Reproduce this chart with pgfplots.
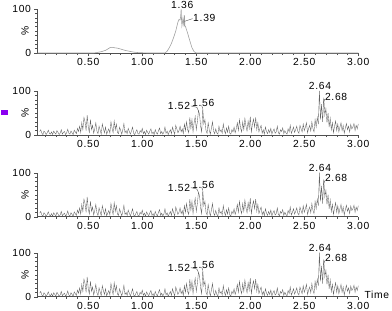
\documentclass[border=0pt]{standalone}
\usepackage{fontspec}
\setmainfont{Liberation Sans}
\newfontfamily\lab[LetterSpace=7]{Liberation Sans}
\usepackage{pgfplots}
\usepackage{pgfplotstable}
\pgfplotsset{compat=1.18}
\definecolor{axc}{HTML}{505050}
\definecolor{trc}{HTML}{626262}
\definecolor{pk}{HTML}{A0A0A0}
\definecolor{mk}{HTML}{8A00F0}

\pgfplotstableread[row sep=\\]{
x y\\
0.05 8\\ 0.06 12\\ 0.07 4\\ 0.08 1\\ 0.09 9\\ 0.10 6\\ 0.11 1\\ 0.12 5\\ 0.13 11\\ 0.14 4\\
0.15 2\\ 0.16 7\\ 0.17 1\\ 0.18 9\\ 0.19 5\\ 0.20 2\\ 0.21 10\\ 0.22 6\\ 0.23 1\\ 0.24 4\\
0.25 12\\ 0.26 2\\ 0.27 6\\ 0.28 8\\ 0.29 1\\ 0.30 5\\ 0.31 13\\ 0.32 4\\ 0.33 2\\ 0.34 9\\
0.35 5\\ 0.36 1\\ 0.37 11\\ 0.38 7\\ 0.39 3\\ 0.40 15\\ 0.41 8\\ 0.42 20\\ 0.43 6\\ 0.44 28\\
0.45 12\\ 0.46 40\\ 0.47 30\\ 0.48 10\\ 0.49 45\\ 0.50 18\\ 0.51 6\\ 0.52 35\\ 0.53 12\\ 0.54 22\\
0.55 4\\ 0.56 14\\ 0.57 28\\ 0.58 9\\ 0.59 3\\ 0.60 20\\ 0.61 11\\ 0.62 2\\ 0.63 25\\ 0.64 14\\
0.65 5\\ 0.66 18\\ 0.67 2\\ 0.68 8\\ 0.69 14\\ 0.70 4\\ 0.71 30\\ 0.72 16\\ 0.73 5\\ 0.74 32\\
0.75 12\\ 0.76 25\\ 0.77 6\\ 0.78 3\\ 0.79 18\\ 0.80 10\\ 0.81 2\\ 0.82 12\\ 0.83 26\\ 0.84 5\\
0.85 10\\ 0.86 3\\ 0.87 15\\ 0.88 8\\ 0.89 2\\ 0.90 9\\ 0.91 18\\ 0.92 4\\ 0.93 1\\ 0.94 7\\
0.95 12\\ 0.96 3\\ 0.97 2\\ 0.98 10\\ 0.99 6\\ 1.00 15\\ 1.01 3\\ 1.02 8\\ 1.03 1\\ 1.04 11\\
1.05 6\\ 1.06 2\\ 1.07 9\\ 1.08 14\\ 1.09 3\\ 1.10 7\\ 1.11 1\\ 1.12 12\\ 1.13 5\\ 1.14 2\\
1.15 10\\ 1.16 16\\ 1.17 3\\ 1.18 8\\ 1.19 2\\ 1.20 6\\ 1.21 18\\ 1.22 4\\ 1.23 9\\ 1.24 1\\
1.25 7\\ 1.26 12\\ 1.27 3\\ 1.28 18\\ 1.29 9\\ 1.30 2\\ 1.31 22\\ 1.32 14\\ 1.33 5\\ 1.34 10\\
1.35 20\\ 1.36 7\\ 1.37 14\\ 1.38 3\\ 1.39 25\\ 1.40 10\\ 1.41 30\\ 1.42 12\\ 1.43 5\\ 1.44 40\\
1.45 15\\ 1.46 35\\ 1.47 7\\ 1.48 28\\ 1.49 42\\ 1.50 12\\ 1.51 30\\ 1.52 55\\ 1.53 48\\ 1.54 20\\
1.55 7\\ 1.56 60\\ 1.57 25\\ 1.58 35\\ 1.59 10\\ 1.60 4\\ 1.61 28\\ 1.62 12\\ 1.63 2\\ 1.64 15\\
1.65 30\\ 1.66 9\\ 1.67 3\\ 1.68 14\\ 1.69 5\\ 1.70 2\\ 1.71 20\\ 1.72 8\\ 1.73 12\\ 1.74 4\\
1.75 25\\ 1.76 10\\ 1.77 3\\ 1.78 16\\ 1.79 6\\ 1.80 20\\ 1.81 4\\ 1.82 2\\ 1.83 12\\ 1.84 7\\
1.85 18\\ 1.86 5\\ 1.87 14\\ 1.88 28\\ 1.89 10\\ 1.90 35\\ 1.91 16\\ 1.92 7\\ 1.93 30\\ 1.94 12\\
1.95 38\\ 1.96 20\\ 1.97 9\\ 1.98 32\\ 1.99 15\\ 2.00 42\\ 2.01 7\\ 2.02 25\\ 2.03 36\\ 2.04 18\\
2.05 40\\ 2.06 12\\ 2.07 28\\ 2.08 7\\ 2.09 15\\ 2.10 22\\ 2.11 4\\ 2.12 12\\ 2.13 2\\ 2.14 18\\
2.15 8\\ 2.16 3\\ 2.17 12\\ 2.18 5\\ 2.19 15\\ 2.20 2\\ 2.21 9\\ 2.22 14\\ 2.23 4\\ 2.24 7\\
2.25 20\\ 2.26 5\\ 2.27 2\\ 2.28 12\\ 2.29 8\\ 2.30 16\\ 2.31 3\\ 2.32 10\\ 2.33 5\\ 2.34 2\\
2.35 14\\ 2.36 7\\ 2.37 22\\ 2.38 4\\ 2.39 10\\ 2.40 18\\ 2.41 6\\ 2.42 12\\ 2.43 20\\ 2.44 8\\
2.45 4\\ 2.46 22\\ 2.47 14\\ 2.48 7\\ 2.49 25\\ 2.50 10\\ 2.51 18\\ 2.52 28\\ 2.53 5\\ 2.54 15\\
2.55 22\\ 2.56 9\\ 2.57 30\\ 2.58 15\\ 2.59 7\\ 2.60 35\\ 2.61 18\\ 2.62 40\\ 2.63 25\\ 2.64 100\\
2.65 35\\ 2.66 70\\ 2.67 30\\ 2.68 85\\ 2.69 45\\ 2.70 60\\ 2.71 28\\ 2.72 50\\ 2.73 18\\ 2.74 38\\
2.75 12\\ 2.76 28\\ 2.77 5\\ 2.78 20\\ 2.79 32\\ 2.80 10\\ 2.81 25\\ 2.82 7\\ 2.83 18\\ 2.84 28\\
2.85 10\\ 2.86 22\\ 2.87 4\\ 2.88 16\\ 2.89 26\\ 2.90 12\\ 2.91 20\\ 2.92 7\\ 2.93 24\\ 2.94 14\\
2.95 18\\ 2.96 26\\ 2.97 10\\ 2.98 22\\ 2.99 14\\ 3.00 25\\
}\noise

\pgfplotstableread[row sep=\\]{
x y\\
0.03 0\\ 0.55 0\\ 0.58 1\\ 0.62 3\\ 0.66 6\\ 0.68 9\\ 0.70 12\\ 0.72 13\\ 0.74 12\\ 0.77 11\\
0.80 9\\ 0.84 6\\ 0.88 4\\ 0.92 2\\ 0.96 1\\ 1.00 0.5\\ 1.05 0\\ 1.21 0\\ 1.23 4\\ 1.25 12\\
1.27 22\\ 1.29 35\\ 1.31 50\\ 1.32 60\\ 1.33 70\\ 1.34 76\\ 1.35 75\\ 1.355 82\\ 1.36 100\\ 1.363 78\\
1.367 62\\ 1.372 70\\ 1.377 80\\ 1.382 68\\ 1.387 60\\ 1.39 86\\ 1.395 62\\ 1.40 60\\ 1.42 45\\ 1.44 28\\
1.46 12\\ 1.48 3\\ 1.50 0\\ 3.00 0\\
}\tic

\pgfplotsset{chrom/.style={
  scale only axis, width=320.8bp, height=44bp,
  xmin=0.03, xmax=3.0, ymin=0, ymax=100,
  axis x line*=bottom, axis y line*=left,
  axis line style={draw=axc, line width=0.5bp, -},
  xtick={0.5,1,1.5,2,2.5,3}, xticklabels={0.50,1.00,1.50,2.00,2.50,3.00},
  minor xtick={0.1,0.2,0.3,0.4,0.6,0.7,0.8,0.9,1.1,1.2,1.3,1.4,1.6,1.7,1.8,1.9,2.1,2.2,2.3,2.4,2.6,2.7,2.8,2.9},
  ytick={0,100}, yticklabels={0,100}, minor ytick={10,20,...,90},
  tick align=outside, major tick length=3bp, minor tick length=2bp,
  tick style={draw=axc, line width=0.4bp},
  every tick label/.append style={font=\lab\fontsize{10.3bp}{11bp}\selectfont, text=black},
  xticklabel style={yshift=1.2bp},
  clip=false,
}}
\tikzset{lbl/.style={font=\lab\fontsize{10.3bp}{11bp}\selectfont, inner sep=0pt, text=black}}

\begin{document}
\begin{tikzpicture}
\useasboundingbox (-37.5bp,-258bp) rectangle (354.5bp,53bp);
% panel 1
\begin{axis}[chrom, at={(0,0)}, anchor=south west]
\addplot[pk, line width=0.6bp] table[x=x,y=y] {\tic};
\node[lbl, rotate=90] at ([xshift=-12.5bp]rel axis cs:0,0.5) {\%};
\node[lbl] at (axis cs:1.37,110) {1.36};
\node[lbl, anchor=west] at (axis cs:1.47,80) {1.39};
\draw[axc, line width=0.4bp] (axis cs:1.39,72) -- (axis cs:1.465,78);
\end{axis}
% panels 2-4
\foreach \yy/\sq in {-82bp/1,-163.7bp/0,-243.7bp/0}{
\begin{axis}[chrom, at={(0,\yy)}, anchor=south west]
\addplot[trc, line width=0.35bp] table[x=x,y=y] {\noise};
\node[lbl, rotate=90] at ([xshift=-12.5bp]rel axis cs:0,0.5) {\%};
\node[lbl, anchor=south] at (axis cs:2.645,102) {2.64};
\node[lbl, anchor=west] at (axis cs:2.69,87) {2.68};
\draw[axc, line width=0.4bp] (axis cs:2.675,72) -- (axis cs:2.69,82);
\node[lbl, anchor=east] at (axis cs:1.445,66) {1.52};
\draw[axc, line width=0.4bp] (axis cs:1.45,66) -- (axis cs:1.505,63) -- (axis cs:1.52,55);
\node[lbl] at (axis cs:1.565,73) {1.56};
\draw[axc, line width=0.4bp] (axis cs:1.55,67) -- (axis cs:1.56,60);
\ifnum\sq=1
\fill[mk] ([xshift=-36.5bp,yshift=20bp]rel axis cs:0,0) rectangle ([xshift=-29.5bp,yshift=25bp]rel axis cs:0,0);
\fi
\ifdim\yy=-243.7bp
\node[lbl, anchor=west] at ([xshift=6bp,yshift=1.5bp]axis cs:3.0,0) {Time};
\fi
\end{axis}
}
\end{tikzpicture}
\end{document}
